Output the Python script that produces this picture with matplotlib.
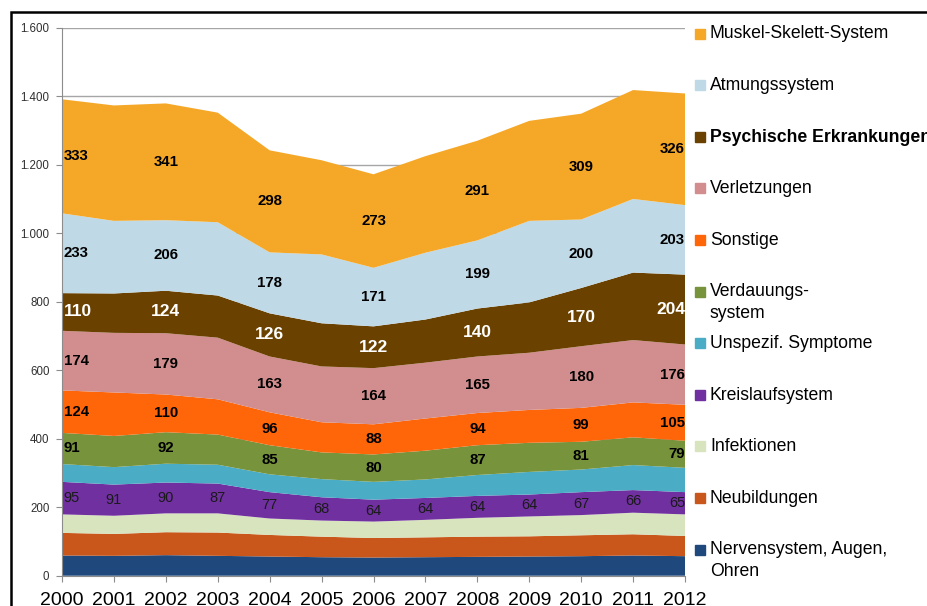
import matplotlib
matplotlib.use('Agg')
import matplotlib.pyplot as plt
import numpy as np

plt.rcParams['font.family'] = ['Liberation Sans', 'DejaVu Sans']

# Arbeitsunfähigkeitstage je Diagnosegruppe, 2000-2012
jahre = [2000, 2001, 2002, 2003, 2004, 2005, 2006, 2007, 2008, 2009, 2010, 2011, 2012]

nerven = [59, 58, 60, 58, 56, 54, 53, 54, 55, 56, 57, 59, 57]
neubildungen = [66, 64, 67, 68, 63, 60, 57, 58, 59, 59, 61, 62, 59]
infektionen = [54, 53, 55, 56, 48, 47, 48, 51, 55, 58, 59, 63, 63]
kreislauf = [95, 91, 90, 87, 77, 68, 64, 64, 64, 64, 67, 66, 65]
unspezif = [52, 51, 55, 55, 52, 53, 52, 54, 61, 66, 66, 73, 71]
verdauung = [91, 91, 92, 88, 85, 78, 80, 84, 87, 85, 81, 81, 79]
sonstige = [124, 127, 110, 103, 96, 88, 88, 94, 94, 96, 99, 102, 105]
verletzungen = [174, 174, 179, 180, 163, 163, 164, 163, 165, 167, 180, 182, 176]
psychisch = [110, 115, 124, 123, 126, 126, 122, 126, 140, 147, 170, 197, 204]
atmung = [233, 212, 206, 214, 178, 201, 171, 195, 199, 238, 200, 215, 203]
muskel = [333, 337, 341, 320, 298, 275, 273, 282, 291, 292, 309, 318, 326]

reihen = [nerven, neubildungen, infektionen, kreislauf, unspezif, verdauung,
          sonstige, verletzungen, psychisch, atmung, muskel]
namen = ['Nervensystem, Augen,\nOhren', 'Neubildungen', 'Infektionen', 'Kreislaufsystem',
         'Unspezif. Symptome', 'Verdauungs-\nsystem', 'Sonstige', 'Verletzungen',
         'Psychische Erkrankungen', 'Atmungssystem', 'Muskel-Skelett-System']
farben = ['#1F497D', '#C9561A', '#D8E4BE', '#7030A0', '#4BACC6', '#77933C',
          '#FF660A', '#D28E8E', '#6B4100', '#C0D9E6', '#F5A827']

W, H = 928, 606
fig = plt.figure(figsize=(W / 100, H / 100), dpi=100)
ax = fig.add_axes([62 / W, 1 - 575.7 / H, (685 - 62) / W, (575.7 - 27.7) / H])

ax.stackplot(jahre, *reihen, colors=farben, lw=0)
ax.set_xlim(2000, 2012)
ax.set_ylim(0, 1600)
ax.set_yticks(range(0, 1601, 200))
ax.set_yticklabels(['{:,}'.format(v).replace(',', '.') for v in range(0, 1601, 200)],
                   fontsize=8.3, color='#303030')
ax.set_xticks(jahre)
ax.set_xticklabels([str(j) for j in jahre], fontsize=14)
ax.yaxis.grid(True, color='#a6a6a6', lw=1)
ax.set_axisbelow(True)
for s in ['top', 'right']:
    ax.spines[s].set_visible(False)
for s in ['left', 'bottom']:
    ax.spines[s].set_color('#8c8c8c')
ax.tick_params(axis='y', length=4, color='#8c8c8c', pad=5)
ax.tick_params(axis='x', length=4, color='#8c8c8c', pad=8)

# Datenbeschriftungen in der Mitte der Flächen
kum = np.cumsum(np.array(reihen), axis=0)
beschriftet = {5: ('black', 'bold', 10.8), 6: ('black', 'bold', 10.8), 7: ('black', 'bold', 10.8),
               8: ('white', 'bold', 12.5), 9: ('black', 'bold', 10.8), 10: ('black', 'bold', 10.8)}
for i, werte in enumerate(reihen):
    if i == 3:
        jahr_idx = range(len(jahre))
        farbe, gewicht, groesse = '#1a1a1a', 'normal', 10.5
    elif i in beschriftet:
        jahr_idx = range(0, len(jahre), 2)
        farbe, gewicht, groesse = beschriftet[i]
    else:
        continue
    for k in jahr_idx:
        mitte = kum[i][k] - werte[k] / 2
        ha = 'center'
        x = jahre[k]
        if k == 0:
            ha = 'left'
            x = jahre[k] + 0.03
        elif k == len(jahre) - 1:
            ha = 'right'
        ax.text(x, mitte, str(werte[k]), ha=ha, va='center', color=farbe,
                fontweight=gewicht, fontsize=groesse)

# Legende
for n, (name, farbe) in enumerate(zip(namen[::-1], farben[::-1])):
    y = 33.5 + n * 51.6
    fig.patches.append(plt.Rectangle((695 / W, 1 - (y + 5) / H), 10 / W, 10 / H,
                                     transform=fig.transFigure, color=farbe))
    gewicht = 'bold' if name.startswith('Psychische') else 'normal'
    fig.text(710 / W, 1 - (y - 8) / H, name, ha='left', va='top', fontsize=12.7,
             fontweight=gewicht, linespacing=1.35)

# Rahmen
fig.patches.append(plt.Rectangle((11 / W, -0.1), 1.2, 1 - 12 / H + 0.1, fill=False,
                                 ec='black', lw=1.8, transform=fig.transFigure))

fig.savefig('out.png', dpi=100)
